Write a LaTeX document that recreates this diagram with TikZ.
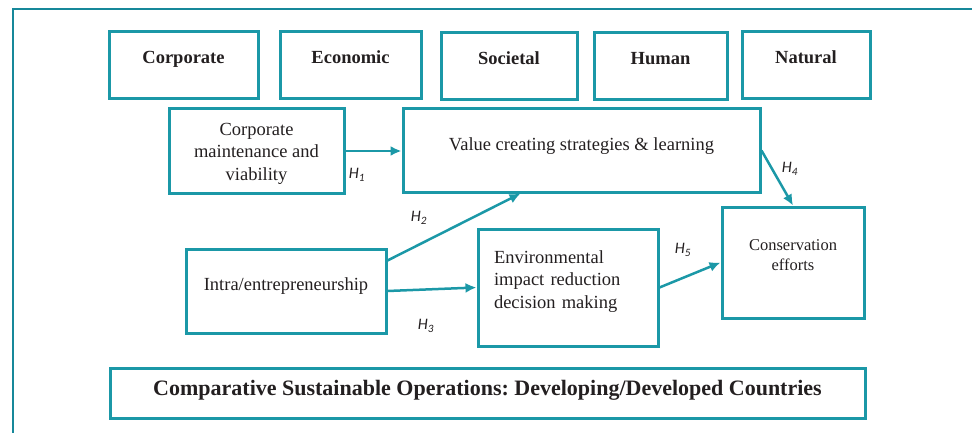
\documentclass[tikz,border=0pt]{standalone}
\usepackage{fontspec}
\setmainfont{Liberation Serif}
\newfontfamily\hypfont{Carlito}
\usetikzlibrary{arrows.meta}
\definecolor{tealbox}{HTML}{1B98A7}
\definecolor{tealframe}{HTML}{17889A}
\definecolor{ink}{HTML}{231F20}
\tikzset{>={Latex[width=10pt,length=11pt]}}
\tikzset{
  box/.style={draw=tealbox, line width=3pt, inner sep=0pt, text=ink,
    font=\fontsize{18.5}{22.5}\selectfont},
  pillar/.style={box, font=\fontsize{18.5}{22.5}\selectfont\bfseries,
    text height=32pt, text depth=35pt},
  hyp/.style={text=ink, inner sep=0pt, font=\fontsize{16}{18}\selectfont\hypfont\itshape},
  link/.style={->, draw=tealbox, line width=2.5pt},
}
\frenchspacing

\begin{document}
\begin{tikzpicture}[x=1pt, y=-1pt]

  \useasboundingbox (0,0) rectangle (972,433);
  \clip (0,0) rectangle (972,433);

  % outer frame, runs off the page on the right and bottom
  \draw[tealframe, line width=2.5pt] (13,9) rectangle (1000,460);

  % sustainability pillars
  \node[pillar, minimum width=149pt] (corp)  at (183.5,65) {Corporate};
  \node[pillar, minimum width=141pt] (econ)  at (350.5,65) {Economic};
  \node[pillar, minimum width=136pt] (soc)   at (509,66)   {Societal};
  \node[pillar, minimum width=133pt] (human) at (660.5,66) {Human};
  \node[pillar, minimum width=128pt] (nat)   at (806,65)   {Natural};

  % constructs
  \node[box, minimum width=175pt, align=center, text height=71pt, text depth=13pt]
    (maint) at (256.5,151) {Corporate\\maintenance and\\viability};
  \node[box, minimum width=357pt, text height=41pt, text depth=42pt]
    (value) at (581.5,150.5) {Value creating strategies \& learning};
  \node[box, minimum width=200pt, text height=41pt, text depth=43pt]
    (intra) at (286,291) {Intra/entrepreneurship};
  \node[box, inner xsep=16pt, text width=148pt, align=left, text height=34pt, text depth=83pt]
    (envir) at (568,287.5) {Environmental\\impact reduction\\decision making};
  \node[box, minimum width=142pt, align=center, text height=63pt, text depth=48pt,
    font=\fontsize{16.5}{20}\selectfont]
    (cons) at (793,262.5) {Conservation\\efforts};

  \node[box, minimum width=755pt, text height=27pt, text depth=23pt,
    font=\fontsize{22}{26}\selectfont\bfseries]
    (compare) at (487.5,393) {Comparative Sustainable Operations: Developing/Developed Countries};

  % hypotheses
  \draw[link] (maint.east) -- (maint.east -| value.west); % H1
  \draw[link] ([yshift=-13pt]intra.north east) -- ([xshift=-61pt]value.south); % H2
  \draw[link] (intra.east) -- (envir.west); % H3
  \draw[link] (value.east) -- (cons.north); % H4
  \draw[link] (envir.east) -- (cons.west); % H5

  \node[hyp] (h1) at (357,175) {H\textsubscript{1}};
  \node[hyp] (h2) at (419,218) {H\textsubscript{2}};
  \node[hyp] (h3) at (426,326) {H\textsubscript{3}};
  \node[hyp] (h4) at (790,169) {H\textsubscript{4}};
  \node[hyp] (h5) at (683,250) {H\textsubscript{5}};

\end{tikzpicture}
\end{document}
